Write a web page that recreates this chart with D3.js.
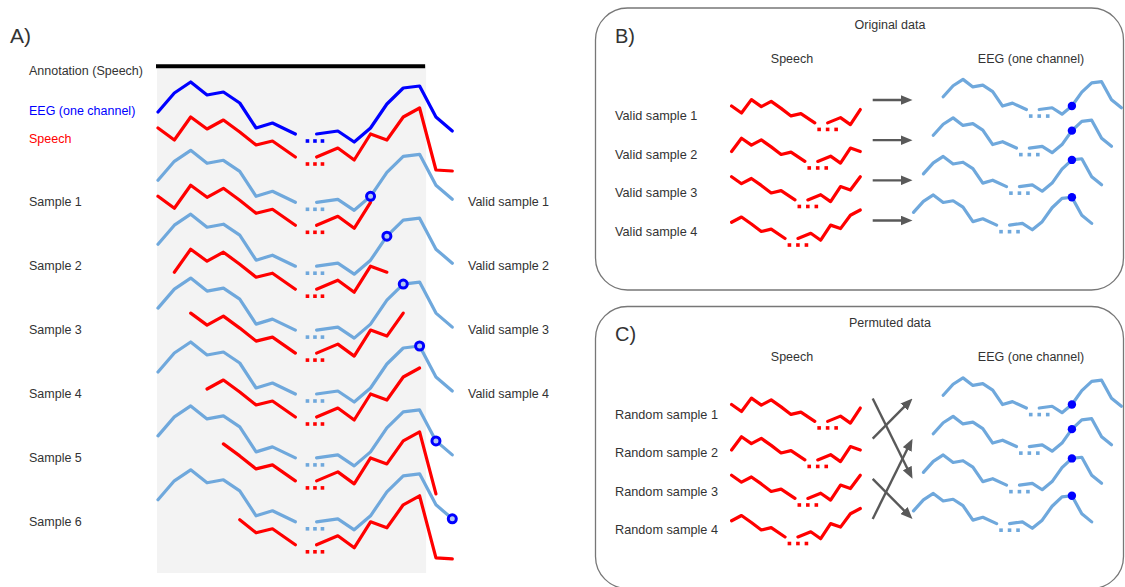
<!DOCTYPE html>
<html>
<head>
<meta charset="utf-8">
<script src="https://cdn.jsdelivr.net/npm/d3@7"></script>
<style>
  body { margin: 0; background: #fff; }
  text { font-family: "Liberation Sans", Arial, sans-serif; fill: #333; }
</style>
</head>
<body>
<script>
// time steps of the drawn waveforms, before and after the "..." gap
var timeLeft = [0, 1, 2, 3, 4, 5, 6, 7, 8.4];
var timeRight = [9.7, 11, 12, 13, 14, 15, 16, 17, 18];
// amplitudes
var eegLeft = [3.8, 5.7, 6.8, 5.5, 5.8, 4.7, 2.2, 2.7, 1.6];
var eegRight = [1.6, 1.9, 0.8, 2.2, 4.6, 6.2, 6.4, 3.3, 1.9];
var speechLeft = [4.2, 3.0, 5.3, 4.1, 5.0, 3.8, 2.5, 2.9, 1.3];
var speechRight = [1.3, 2.2, 1.0, 3.6, 3.0, 5.3, 6.2, 0.0, -0.1];
var annotation = [0, 16.4];          // speech annotation span (time steps)
var samples = [1, 2, 3, 4, 5, 6];
var windowLength = 13;               // speech window per sample
var rows = [1, 2, 3, 4];
var permutedPairs = [[2, 1], [1, 3], [4, 2], [3, 4]];  // speech row -> eeg row

var W = 1125, H = 587;
var svg = d3.select("body").append("svg").attr("width", W).attr("height", H);

function pts(vl, vr, t0, t1) {
  var l = timeLeft.map(function (t, i) { return { t: t, v: vl[i] }; }),
      r = timeRight.map(function (t, i) { return { t: t, v: vr[i] }; });
  var f = function (d) { return d.t >= t0 - 1e-6 && d.t <= t1 + 1e-6; };
  return [l.filter(f), r.filter(f)];
}
function eegAt(t) {
  var i = timeRight.indexOf(t);
  if (i >= 0) return eegRight[i];
  return eegLeft[timeLeft.indexOf(t)];
}

var BLUE = "#0000ff", LIGHT = "#6fa8dc", RED = "#ff0000";

// ---------------- panel A ----------------
var xA = d3.scaleLinear().domain([0, 18]).range([158, 452.3]);
var yA = d3.scaleLinear().domain([0, 10]).range([0, -100]);
var rowA = d3.scaleLinear().domain([1, 6]).range([218.3, 537.8]);
var gA = svg.append("g");

gA.append("rect")
  .attr("x", xA(annotation[0]) - 1).attr("y", 66)
  .attr("width", xA(annotation[1]) - xA(annotation[0]) + 1).attr("height", 507)
  .attr("fill", "#f3f3f3");
gA.append("line")
  .attr("x1", xA(annotation[0]) - 2).attr("x2", xA(annotation[1]) - 1)
  .attr("y1", 66.3).attr("y2", 66.3)
  .attr("stroke", "#000").attr("stroke-width", 4);

function drawWave(g, segs, xs, base, ys, color, width) {
  var line = d3.line().x(function (d) { return xs(d.t); }).y(function (d) { return base + ys(d.v); });
  segs.forEach(function (s) {
    if (s.length < 2) return;
    g.append("path").attr("d", line(s)).attr("fill", "none")
      .attr("stroke", color).attr("stroke-width", width)
      .attr("stroke-linejoin", "round").attr("stroke-linecap", "round");
  });
}
function drawDots(g, cx, cy, gap, color) {
  [-1, 0, 1].forEach(function (k) {
    g.append("rect").attr("x", cx + k * gap - 1.8).attr("y", cy - 1.8)
      .attr("width", 3.6).attr("height", 3.6).attr("fill", color);
  });
}

// original rows
drawWave(gA, pts(eegLeft, eegRight, 0, 18), xA, 150, yA, BLUE, 3.2);
drawDots(gA, xA(9.6), 150 + yA(0.9), 7.5, BLUE);
drawWave(gA, pts(speechLeft, speechRight, 0, 18), xA, 170, yA, RED, 3.2);
drawDots(gA, xA(9.6), 170 + yA(0.6), 7.5, RED);

samples.forEach(function (k) {
  var b = rowA(k), t0 = k - 1, tc = k + 12;
  drawWave(gA, pts(eegLeft, eegRight, 0, 18), xA, b, yA, LIGHT, 3.2);
  drawDots(gA, xA(9.6), b + yA(0.9), 7.5, LIGHT);
  drawWave(gA, pts(speechLeft, speechRight, t0, t0 + windowLength), xA, b + 20, yA, RED, 3.2);
  drawDots(gA, xA(9.6), b + 20 + yA(0.6), 7.5, RED);
  gA.append("circle").attr("cx", xA(tc)).attr("cy", b + yA(eegAt(tc))).attr("r", 4)
    .attr("fill", "#b4c7f0").attr("stroke", BLUE).attr("stroke-width", 3);
  gA.append("text").attr("x", 29).attr("y", b - 12.2).attr("font-size", 12.5)
    .text("Sample " + k);
  if (tc <= annotation[1]) {
    gA.append("text").attr("x", 468).attr("y", b - 12.2).attr("font-size", 12.5)
      .text("Valid sample " + k);
  }
});

gA.append("text").attr("x", 10).attr("y", 42.5).attr("font-size", 21).text("A)");
gA.append("text").attr("x", 29).attr("y", 75).attr("font-size", 12.5).text("Annotation (Speech)");
gA.append("text").attr("x", 29).attr("y", 114.5).attr("font-size", 12.5).style("fill", BLUE).text("EEG (one channel)");
gA.append("text").attr("x", 29).attr("y", 142.5).attr("font-size", 12.5).style("fill", RED).text("Speech");

// ---------------- panels B and C ----------------
var step = d3.scaleLinear().domain([0, 1]).range([0, 9.9]);
var yS = d3.scaleLinear().domain([0, 10]).range([0, -58]);
var rowB = d3.scaleLinear().domain([1, 4]).range([118.8, 234.4]);
var arrowY = d3.scaleLinear().domain([1, 4]).range([100, 220.5]);

svg.append("defs").append("marker")
  .attr("id", "head").attr("viewBox", "0 0 12 10")
  .attr("refX", 4).attr("refY", 5)
  .attr("markerWidth", 12).attr("markerHeight", 10)
  .attr("markerUnits", "userSpaceOnUse").attr("orient", "auto")
  .append("path").attr("d", "M0,0L12,5L0,10Z").attr("fill", "#595959");

function panel(dy, letter, title, labelWord, pairs) {
  var g = svg.append("g").attr("transform", "translate(0," + dy + ")");
  g.append("rect").attr("x", 595.5).attr("y", 8).attr("width", 528).attr("height", 282)
    .attr("rx", 32).attr("fill", "none").attr("stroke", "#777").attr("stroke-width", 1.3);
  g.append("text").attr("x", 615).attr("y", 42.5).attr("font-size", 20).text(letter);
  g.append("text").attr("x", 890).attr("y", 28.5).attr("font-size", 12.5)
    .attr("text-anchor", "middle").text(title);
  g.append("text").attr("x", 792).attr("y", 62.5).attr("font-size", 12.5)
    .attr("text-anchor", "middle").text("Speech");
  g.append("text").attr("x", 1031).attr("y", 62.5).attr("font-size", 12.5)
    .attr("text-anchor", "middle").text("EEG (one channel)");

  rows.forEach(function (k) {
    var r = rowB(k), t0 = k - 1, tc = k + 12;
    var xs = function (t) { return 731.6 + step(t - t0); };
    var xe = function (t) { return 1071.9 + step(t - tc); };
    g.append("text").attr("x", 615).attr("y", r + 1.5).attr("font-size", 12.7)
      .text(labelWord + " sample " + k);
    drawWave(g, pts(speechLeft, speechRight, t0, t0 + windowLength), xs, r + 11.6, yS, RED, 3.2);
    drawDots(g, xs(9.7), r + 11.6 + yS(0.6) + 2.5, 8.5, RED);
    drawWave(g, pts(eegLeft, eegRight, 0, 18), xe, r, yS, LIGHT, 3.2);
    drawDots(g, xe(9.7), r + yS(0.9) + 2.5, 8.5, LIGHT);
    g.append("circle").attr("cx", xe(tc)).attr("cy", r + yS(eegAt(tc))).attr("r", 4.2).attr("fill", BLUE);
  });

  pairs.forEach(function (p) {
    var x1 = 872.7, y1 = arrowY(p[0]), x2 = 912.5, y2 = arrowY(p[1]);
    var len = Math.hypot(x2 - x1, y2 - y1), ux = (x2 - x1) / len, uy = (y2 - y1) / len;
    g.append("line").attr("x1", x1).attr("y1", y1)
      .attr("x2", x2 - 8 * ux).attr("y2", y2 - 8 * uy)
      .attr("stroke", "#595959").attr("stroke-width", 2.4)
      .attr("marker-end", "url(#head)");
  });
}

panel(0, "B)", "Original data", "Valid", rows.map(function (k) { return [k, k]; }));
panel(298.5, "C)", "Permuted data", "Random", permutedPairs);
</script>
</body>
</html>
